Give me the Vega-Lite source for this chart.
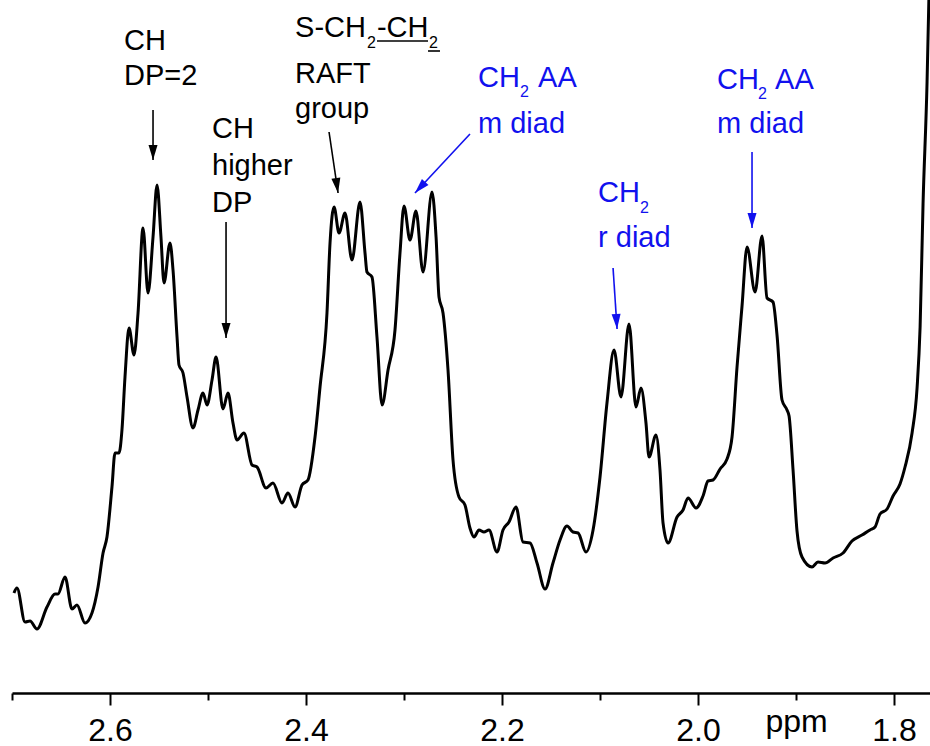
{
  "$schema": "https://vega.github.io/schema/vega-lite/v6.json",
  "width": 918,
  "height": 693,
  "autosize": "none",
  "padding": {"left": 12, "right": 0, "top": 0, "bottom": 53},
  "background": "white",
  "config": {"view": {"stroke": null}, "font": "Liberation Sans"},
  "datasets": {
    "spectrum": [
      {"ppm": 2.6980, "intensity": 100}, {"ppm": 2.6949, "intensity": 105}, {"ppm": 2.6867, "intensity": 71},
      {"ppm": 2.6816, "intensity": 72}, {"ppm": 2.6745, "intensity": 64}, {"ppm": 2.6643, "intensity": 86},
      {"ppm": 2.6561, "intensity": 99}, {"ppm": 2.6531, "intensity": 99}, {"ppm": 2.6459, "intensity": 116},
      {"ppm": 2.6388, "intensity": 84}, {"ppm": 2.6337, "intensity": 88}, {"ppm": 2.6255, "intensity": 70},
      {"ppm": 2.6184, "intensity": 80}, {"ppm": 2.6122, "intensity": 106}, {"ppm": 2.6071, "intensity": 140},
      {"ppm": 2.6031, "intensity": 156}, {"ppm": 2.5980, "intensity": 206}, {"ppm": 2.5949, "intensity": 240},
      {"ppm": 2.5908, "intensity": 240}, {"ppm": 2.5878, "intensity": 263}, {"ppm": 2.5847, "intensity": 316},
      {"ppm": 2.5806, "intensity": 365}, {"ppm": 2.5755, "intensity": 338}, {"ppm": 2.5714, "intensity": 380},
      {"ppm": 2.5663, "intensity": 465}, {"ppm": 2.5612, "intensity": 400}, {"ppm": 2.5561, "intensity": 456},
      {"ppm": 2.5520, "intensity": 508}, {"ppm": 2.5480, "intensity": 456}, {"ppm": 2.5449, "intensity": 410},
      {"ppm": 2.5388, "intensity": 450}, {"ppm": 2.5357, "intensity": 423}, {"ppm": 2.5316, "intensity": 356},
      {"ppm": 2.5296, "intensity": 328}, {"ppm": 2.5255, "intensity": 320}, {"ppm": 2.5214, "intensity": 296},
      {"ppm": 2.5153, "intensity": 265}, {"ppm": 2.5102, "intensity": 283}, {"ppm": 2.5051, "intensity": 300},
      {"ppm": 2.5010, "intensity": 288}, {"ppm": 2.4959, "intensity": 313}, {"ppm": 2.4918, "intensity": 336},
      {"ppm": 2.4847, "intensity": 284}, {"ppm": 2.4796, "intensity": 300}, {"ppm": 2.4745, "intensity": 270},
      {"ppm": 2.4704, "intensity": 253}, {"ppm": 2.4633, "intensity": 260}, {"ppm": 2.4551, "intensity": 228},
      {"ppm": 2.4500, "intensity": 226}, {"ppm": 2.4408, "intensity": 205}, {"ppm": 2.4337, "intensity": 210},
      {"ppm": 2.4245, "intensity": 190}, {"ppm": 2.4184, "intensity": 200}, {"ppm": 2.4112, "intensity": 186},
      {"ppm": 2.4041, "intensity": 208}, {"ppm": 2.3980, "intensity": 213}, {"ppm": 2.3908, "intensity": 256},
      {"ppm": 2.3857, "intensity": 306}, {"ppm": 2.3786, "intensity": 380}, {"ppm": 2.3755, "intensity": 450},
      {"ppm": 2.3714, "intensity": 486}, {"ppm": 2.3663, "intensity": 460}, {"ppm": 2.3602, "intensity": 480},
      {"ppm": 2.3531, "intensity": 433}, {"ppm": 2.3449, "intensity": 491}, {"ppm": 2.3398, "intensity": 440},
      {"ppm": 2.3378, "intensity": 421}, {"ppm": 2.3327, "intensity": 416}, {"ppm": 2.3276, "intensity": 356},
      {"ppm": 2.3224, "intensity": 288}, {"ppm": 2.3163, "intensity": 323}, {"ppm": 2.3092, "intensity": 363},
      {"ppm": 2.3041, "intensity": 440}, {"ppm": 2.3000, "intensity": 487}, {"ppm": 2.2939, "intensity": 453},
      {"ppm": 2.2878, "intensity": 482}, {"ppm": 2.2806, "intensity": 421}, {"ppm": 2.2714, "intensity": 501},
      {"ppm": 2.2673, "intensity": 456}, {"ppm": 2.2643, "intensity": 396}, {"ppm": 2.2602, "intensity": 380},
      {"ppm": 2.2551, "intensity": 323}, {"ppm": 2.2500, "intensity": 233}, {"ppm": 2.2439, "intensity": 196},
      {"ppm": 2.2378, "intensity": 188}, {"ppm": 2.2327, "intensity": 165}, {"ppm": 2.2286, "intensity": 156},
      {"ppm": 2.2235, "intensity": 163}, {"ppm": 2.2184, "intensity": 161}, {"ppm": 2.2133, "intensity": 163},
      {"ppm": 2.2051, "intensity": 141}, {"ppm": 2.1990, "intensity": 163}, {"ppm": 2.1929, "intensity": 171},
      {"ppm": 2.1857, "intensity": 186}, {"ppm": 2.1786, "intensity": 151}, {"ppm": 2.1714, "intensity": 150},
      {"ppm": 2.1643, "intensity": 130}, {"ppm": 2.1561, "intensity": 104}, {"ppm": 2.1480, "intensity": 130},
      {"ppm": 2.1408, "intensity": 153}, {"ppm": 2.1337, "intensity": 167}, {"ppm": 2.1276, "intensity": 161},
      {"ppm": 2.1224, "intensity": 160}, {"ppm": 2.1143, "intensity": 141}, {"ppm": 2.1071, "intensity": 163},
      {"ppm": 2.1000, "intensity": 216}, {"ppm": 2.0929, "intensity": 290}, {"ppm": 2.0857, "intensity": 343},
      {"ppm": 2.0786, "intensity": 296}, {"ppm": 2.0704, "intensity": 369}, {"ppm": 2.0633, "intensity": 286},
      {"ppm": 2.0582, "intensity": 305}, {"ppm": 2.0531, "intensity": 270}, {"ppm": 2.0500, "intensity": 236},
      {"ppm": 2.0429, "intensity": 258}, {"ppm": 2.0388, "intensity": 223}, {"ppm": 2.0357, "intensity": 170},
      {"ppm": 2.0306, "intensity": 150}, {"ppm": 2.0214, "intensity": 176}, {"ppm": 2.0153, "intensity": 183},
      {"ppm": 2.0102, "intensity": 195}, {"ppm": 2.0020, "intensity": 185}, {"ppm": 1.9949, "intensity": 197},
      {"ppm": 1.9898, "intensity": 212}, {"ppm": 1.9847, "intensity": 213}, {"ppm": 1.9775, "intensity": 224},
      {"ppm": 1.9704, "intensity": 234}, {"ppm": 1.9653, "intensity": 256}, {"ppm": 1.9602, "intensity": 326},
      {"ppm": 1.9551, "intensity": 387}, {"ppm": 1.9500, "intensity": 446}, {"ppm": 1.9418, "intensity": 401},
      {"ppm": 1.9347, "intensity": 457}, {"ppm": 1.9296, "intensity": 395}, {"ppm": 1.9235, "intensity": 391},
      {"ppm": 1.9194, "intensity": 358}, {"ppm": 1.9143, "intensity": 293}, {"ppm": 1.9092, "intensity": 283},
      {"ppm": 1.9071, "intensity": 277}, {"ppm": 1.9031, "intensity": 224}, {"ppm": 1.8990, "intensity": 162},
      {"ppm": 1.8939, "intensity": 136}, {"ppm": 1.8837, "intensity": 126}, {"ppm": 1.8776, "intensity": 131},
      {"ppm": 1.8704, "intensity": 130}, {"ppm": 1.8622, "intensity": 135}, {"ppm": 1.8520, "intensity": 140},
      {"ppm": 1.8429, "intensity": 152}, {"ppm": 1.8327, "intensity": 158}, {"ppm": 1.8245, "intensity": 163},
      {"ppm": 1.8194, "intensity": 166}, {"ppm": 1.8143, "intensity": 179}, {"ppm": 1.8071, "intensity": 184},
      {"ppm": 1.8010, "intensity": 197}, {"ppm": 1.7939, "intensity": 209}, {"ppm": 1.7888, "intensity": 226},
      {"ppm": 1.7816, "intensity": 260}, {"ppm": 1.7765, "intensity": 305}, {"ppm": 1.7734, "intensity": 366},
      {"ppm": 1.7704, "intensity": 489}, {"ppm": 1.7663, "intensity": 611}, {"ppm": 1.7643, "intensity": 700}
    ],
    "labels": [
      {"grp": "black", "text": "CH", "ppm": 2.5857, "intensity": 643},
      {"grp": "black", "text": "DP=2", "ppm": 2.5857, "intensity": 608},
      {"grp": "black", "text": "CH", "ppm": 2.4959, "intensity": 555},
      {"grp": "black", "text": "higher", "ppm": 2.4959, "intensity": 518},
      {"grp": "black", "text": "DP", "ppm": 2.4959, "intensity": 481},
      {"grp": "black", "text": "S-CH", "ppm": 2.4112, "intensity": 656},
      {"grp": "black", "text": "-CH", "ppm": 2.3276, "intensity": 656},
      {"grp": "black", "text": "RAFT", "ppm": 2.4112, "intensity": 610},
      {"grp": "black", "text": "group", "ppm": 2.4112, "intensity": 575},
      {"grp": "blue", "text": "CH", "ppm": 2.2245, "intensity": 606},
      {"grp": "blue", "text": "AA", "ppm": 2.1632, "intensity": 606},
      {"grp": "blue", "text": "m diad", "ppm": 2.2245, "intensity": 560},
      {"grp": "blue", "text": "CH", "ppm": 2.1020, "intensity": 491},
      {"grp": "blue", "text": "r diad", "ppm": 2.1020, "intensity": 446},
      {"grp": "blue", "text": "CH", "ppm": 1.9806, "intensity": 604},
      {"grp": "blue", "text": "AA", "ppm": 1.9214, "intensity": 604},
      {"grp": "blue", "text": "m diad", "ppm": 1.9806, "intensity": 560}
    ],
    "subscripts": [
      {"grp": "black", "text": "2", "ppm": 2.3378, "intensity": 645},
      {"grp": "black", "text": "2", "ppm": 2.2745, "intensity": 645},
      {"grp": "blue", "text": "2", "ppm": 2.1816, "intensity": 596},
      {"grp": "blue", "text": "2", "ppm": 2.0592, "intensity": 480},
      {"grp": "blue", "text": "2", "ppm": 1.9388, "intensity": 594}
    ],
    "underlines": [
      {"ppm": 2.3276, "ppm2": 2.2755, "intensity": 652},
      {"ppm": 2.2755, "ppm2": 2.2633, "intensity": 642}
    ],
    "arrows": [
      {"grp": "black", "ppm": 2.5561, "intensity": 533, "ppm_from": 2.5561, "intensity_from": 583},
      {"grp": "black", "ppm": 2.4816, "intensity": 355, "ppm_from": 2.4816, "intensity_from": 471},
      {"grp": "black", "ppm": 2.3673, "intensity": 500, "ppm_from": 2.3765, "intensity_from": 561},
      {"grp": "blue", "ppm": 2.2888, "intensity": 500, "ppm_from": 2.2327, "intensity_from": 559},
      {"grp": "blue", "ppm": 2.0826, "intensity": 364, "ppm_from": 2.0867, "intensity_from": 425},
      {"grp": "blue", "ppm": 1.9449, "intensity": 465, "ppm_from": 1.9449, "intensity_from": 541}
    ]
  },
  "encoding": {
    "x": {
      "field": "ppm",
      "type": "quantitative",
      "title": null,
      "scale": {"domain": [1.7633, 2.7], "reverse": true, "nice": false, "zero": false},
      "axis": {
        "values": [2.7, 2.6, 2.5, 2.4, 2.3, 2.2, 2.1, 2.0, 1.9, 1.8],
        "grid": false,
        "domainColor": "black",
        "domainWidth": 2.5,
        "tickColor": "black",
        "tickWidth": 2,
        "tickSize": {"condition": {"test": "abs(round(datum.value*10)) % 2 == 0", "value": 12}, "value": 7},
        "labelExpr": "abs(datum.value-1.9) < 0.001 ? 'ppm' : (abs(round(datum.value*10)) % 2 == 0 ? format(datum.value, '.1f') : '')",
        "labelFont": "Liberation Sans",
        "labelFontSize": 32,
        "labelColor": "black",
        "labelPadding": {"condition": {"test": "abs(datum.value-1.9) < 0.001", "value": 6}, "value": 10},
        "labelOverlap": false,
        "labelFlush": false,
        "labelBound": false
      }
    },
    "y": {
      "field": "intensity",
      "type": "quantitative",
      "scale": {"domain": [0, 693], "nice": false, "zero": true},
      "axis": null
    }
  },
  "layer": [
    {
      "data": {"name": "spectrum"},
      "mark": {"type": "line", "color": "black", "strokeWidth": 3, "interpolate": "monotone", "clip": true, "strokeJoin": "round"}
    },
    {
      "data": {"name": "underlines"},
      "mark": {"type": "rule", "color": "black", "strokeWidth": 1.6},
      "encoding": {"x2": {"field": "ppm2"}}
    },
    {
      "data": {"name": "arrows"},
      "mark": {"type": "rule", "strokeWidth": 1.6},
      "encoding": {
        "x2": {"field": "ppm_from"},
        "y2": {"field": "intensity_from"},
        "color": {"field": "grp", "type": "nominal", "scale": {"domain": ["black", "blue"], "range": ["#000000", "#1111EE"]}, "legend": null}
      }
    },
    {
      "data": {"name": "arrows"},
      "transform": [
        {"calculate": "atan2(-(datum.ppm_from - datum.ppm) * 980, datum.intensity_from - datum.intensity) * 180 / PI", "as": "angle"}
      ],
      "mark": {"type": "point", "filled": true, "opacity": 1, "shape": "M0,0 L-0.3,-1 L0.3,-1 Z", "size": 900},
      "encoding": {
        "angle": {"field": "angle", "type": "quantitative", "scale": null},
        "color": {"field": "grp", "type": "nominal", "scale": {"domain": ["black", "blue"], "range": ["#000000", "#1111EE"]}, "legend": null}
      }
    },
    {
      "data": {"name": "labels"},
      "mark": {"type": "text", "align": "left", "baseline": "alphabetic", "font": "Liberation Sans", "fontSize": 29},
      "encoding": {
        "text": {"field": "text"},
        "color": {"field": "grp", "type": "nominal", "scale": {"domain": ["black", "blue"], "range": ["#000000", "#1111EE"]}, "legend": null}
      }
    },
    {
      "data": {"name": "subscripts"},
      "mark": {"type": "text", "align": "left", "baseline": "alphabetic", "font": "Liberation Sans", "fontSize": 16},
      "encoding": {
        "text": {"field": "text"},
        "color": {"field": "grp", "type": "nominal", "scale": {"domain": ["black", "blue"], "range": ["#000000", "#1111EE"]}, "legend": null}
      }
    }
  ]
}
